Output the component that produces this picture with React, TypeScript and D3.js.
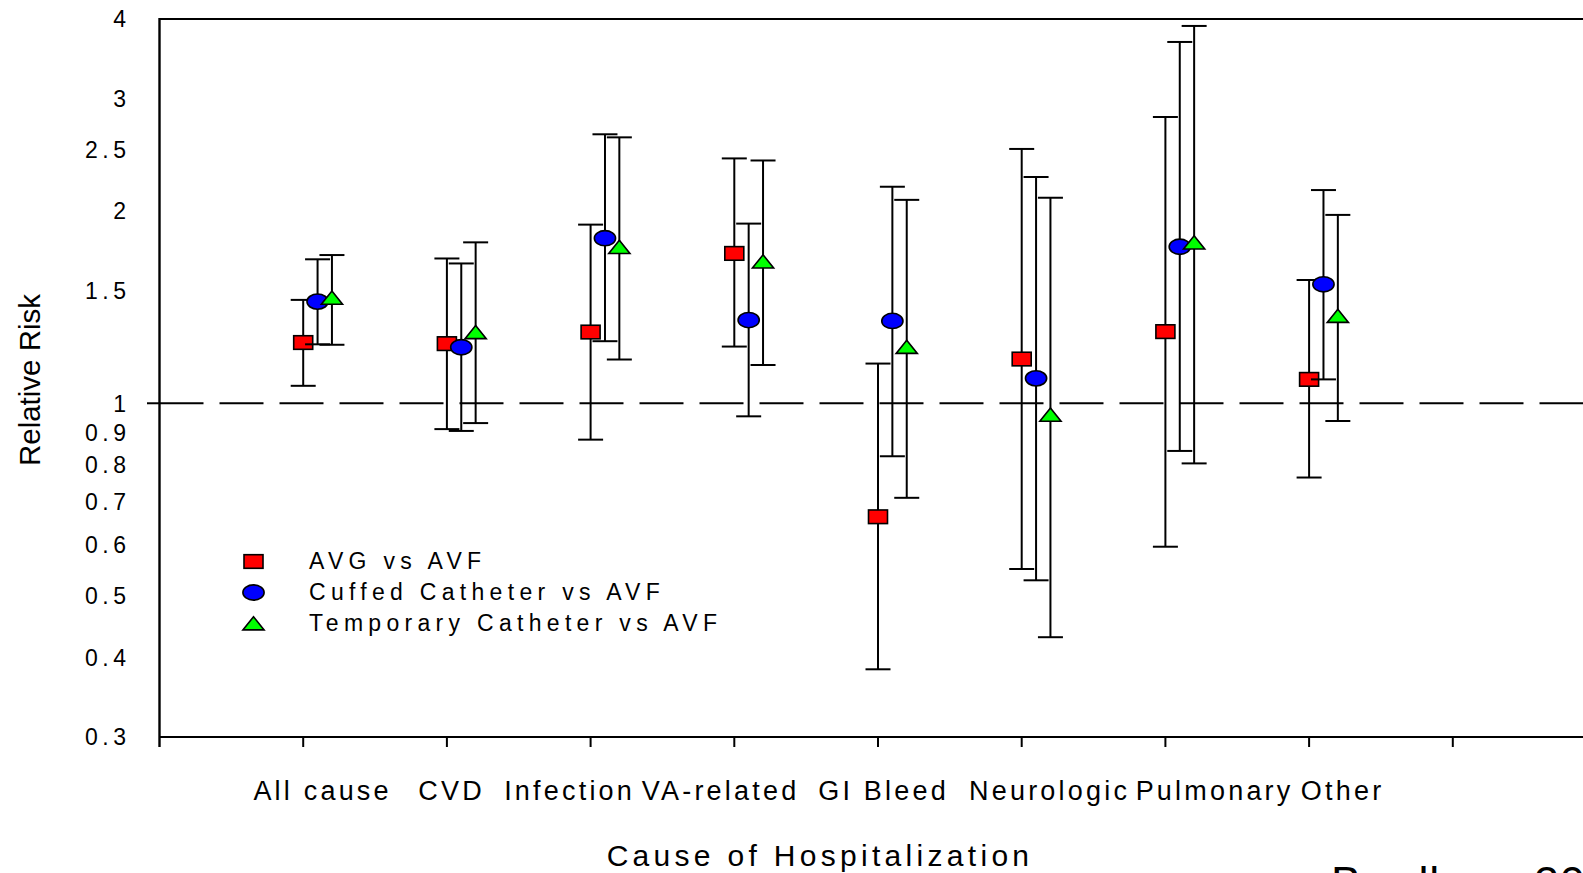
import * as d3 from 'd3';

// causes of hospitalization, left to right
const categories = ['All cause', 'CVD', 'Infection', 'VA-related', 'GI Bleed', 'Neurologic', 'Pulmonary', 'Other'];

// AVG vs AVF
const avgRR = [1.245, 1.24, 1.293, 1.717, 0.664, 1.173, 1.295, 1.09];
const avgLow = [1.065, 0.911, 0.877, 1.227, 0.383, 0.55, 0.596, 0.765];
const avgHigh = [1.452, 1.686, 1.905, 2.419, 1.154, 2.503, 2.809, 1.56];

// Cuffed Catheter vs AVF
const cuffRR = [1.443, 1.224, 1.814, 1.35, 1.346, 1.094, 1.759, 1.536];
const cuffLow = [1.237, 0.905, 1.251, 0.954, 0.826, 0.528, 0.842, 1.09];
const cuffHigh = [1.681, 1.656, 2.639, 1.912, 2.184, 2.262, 3.682, 2.158];

// Temporary Catheter vs AVF
const tempRR = [1.463, 1.292, 1.757, 1.667, 1.225, 0.959, 1.785, 1.37];
const tempLow = [1.235, 0.931, 1.171, 1.148, 0.711, 0.43, 0.805, 0.938];
const tempHigh = [1.707, 1.787, 2.61, 2.401, 2.083, 2.099, 3.901, 1.973];

const yTicks = [0.3, 0.4, 0.5, 0.6, 0.7, 0.8, 0.9, 1, 1.5, 2, 2.5, 3, 4];

// where the category captions sit (they are not centred on the ticks)
const captionX = [321, 450, 568, 719, 882, 1048, 1213, 1341];

const series = [
  { name: 'AVG vs AVF', rr: avgRR, lo: avgLow, hi: avgHigh, shape: 'square', fill: '#ff0000', offset: 0 },
  { name: 'Cuffed Catheter vs AVF', rr: cuffRR, lo: cuffLow, hi: cuffHigh, shape: 'circle', fill: '#0000ff', offset: 0.1 },
  { name: 'Temporary Catheter vs AVF', rr: tempRR, lo: tempLow, hi: tempHigh, shape: 'triangle', fill: '#00ff00', offset: 0.2 },
];

const W = 1583, H = 873;
const FONT = '"Liberation Sans", Arial, sans-serif';

function Marker({ shape, cx, cy, fill }: { shape: string; cx: number; cy: number; fill: string }) {
  const st = { fill, stroke: '#000', strokeWidth: 1.6 };
  if (shape === 'square') return <rect x={cx - 9.5} y={cy - 6.8} width={19} height={13.6} {...st} />;
  if (shape === 'circle') return <ellipse cx={cx} cy={cy} rx={10.6} ry={7.6} {...st} />;
  return <path d={`M${cx},${cy - 6.8}L${cx + 10.6},${cy + 6.4}L${cx - 10.6},${cy + 6.4}Z`} {...st} />;
}

export default function App() {
  const x = d3.scaleLinear().domain([0, 10]).range([159.5, 1596.5]);
  const y = d3.scaleLog().domain([0.3, 4]).range([737, 19]);
  const x0 = x(0), yBot = y(0.3), yTop = y(4);
  const cap = 12.5;

  return (
    <svg width={W} height={H} style={{ position: 'fixed', left: 0, top: 0, background: '#fff' }} fontFamily={FONT}>
      <rect width={W} height={H} fill="#fff" />

      {/* reference line at RR = 1 */}
      <line x1={x0 - 12.5} x2={x0} y1={y(1)} y2={y(1)} stroke="#000" strokeWidth={2} />
      <line x1={x0} x2={W} y1={y(1)} y2={y(1)} stroke="#000" strokeWidth={2} strokeDasharray="44,16" />

      {/* frame + axes */}
      <line x1={x0} x2={W + 20} y1={yTop} y2={yTop} stroke="#000" strokeWidth={2} />
      <line x1={x0} x2={W + 20} y1={yBot} y2={yBot} stroke="#000" strokeWidth={2} />
      <line x1={x0} x2={x0} y1={yTop - 1} y2={yBot + 10} stroke="#000" strokeWidth={2.4} />
      {d3.range(1, 10).map(t => (
        <line key={t} x1={x(t)} x2={x(t)} y1={yBot} y2={yBot + 10} stroke="#000" strokeWidth={2} />
      ))}

      {yTicks.map(t => (
        <text key={t} x={130.5} y={y(t)} dy="0.36em" textAnchor="end" fontSize={23} letterSpacing={4.5}>
          {String(t)}
        </text>
      ))}

      {categories.map((c, i) => (
        <text key={c} x={captionX[i] + 1.6} y={800} textAnchor="middle" fontSize={27} letterSpacing={3.2}>
          {c}
        </text>
      ))}

      <text x={820} y={866} textAnchor="middle" fontSize={30} letterSpacing={4.3}>Cause of Hospitalization</text>
      <text transform={`translate(40,380) rotate(-90)`} textAnchor="middle" fontSize={29.5}>Relative Risk</text>
      <text x={1331} y={898} fontSize={45} letterSpacing={0.8}>
        Bradbury<tspan dx={14}>2007</tspan>
      </text>

      {/* error bars and estimates, one series at a time */}
      {series.map(s => (
        <g key={s.name}>
          {categories.map((c, i) => {
            const px = x(i + 1 + s.offset);
            return (
              <g key={c}>
                <line x1={px} x2={px} y1={y(s.lo[i])} y2={y(s.hi[i])} stroke="#000" strokeWidth={2} />
                <line x1={px - cap} x2={px + cap} y1={y(s.hi[i])} y2={y(s.hi[i])} stroke="#000" strokeWidth={2} />
                <line x1={px - cap} x2={px + cap} y1={y(s.lo[i])} y2={y(s.lo[i])} stroke="#000" strokeWidth={2} />
                <Marker shape={s.shape} cx={px} cy={y(s.rr[i])} fill={s.fill} />
              </g>
            );
          })}
        </g>
      ))}

      {/* legend */}
      {series.map((s, i) => (
        <g key={s.name} transform={`translate(0,${i * 31})`}>
          <Marker shape={s.shape} cx={253.5} cy={561.5} fill={s.fill} />
          <text x={309} y={569} fontSize={23} letterSpacing={5.3}>{s.name}</text>
        </g>
      ))}
    </svg>
  );
}
